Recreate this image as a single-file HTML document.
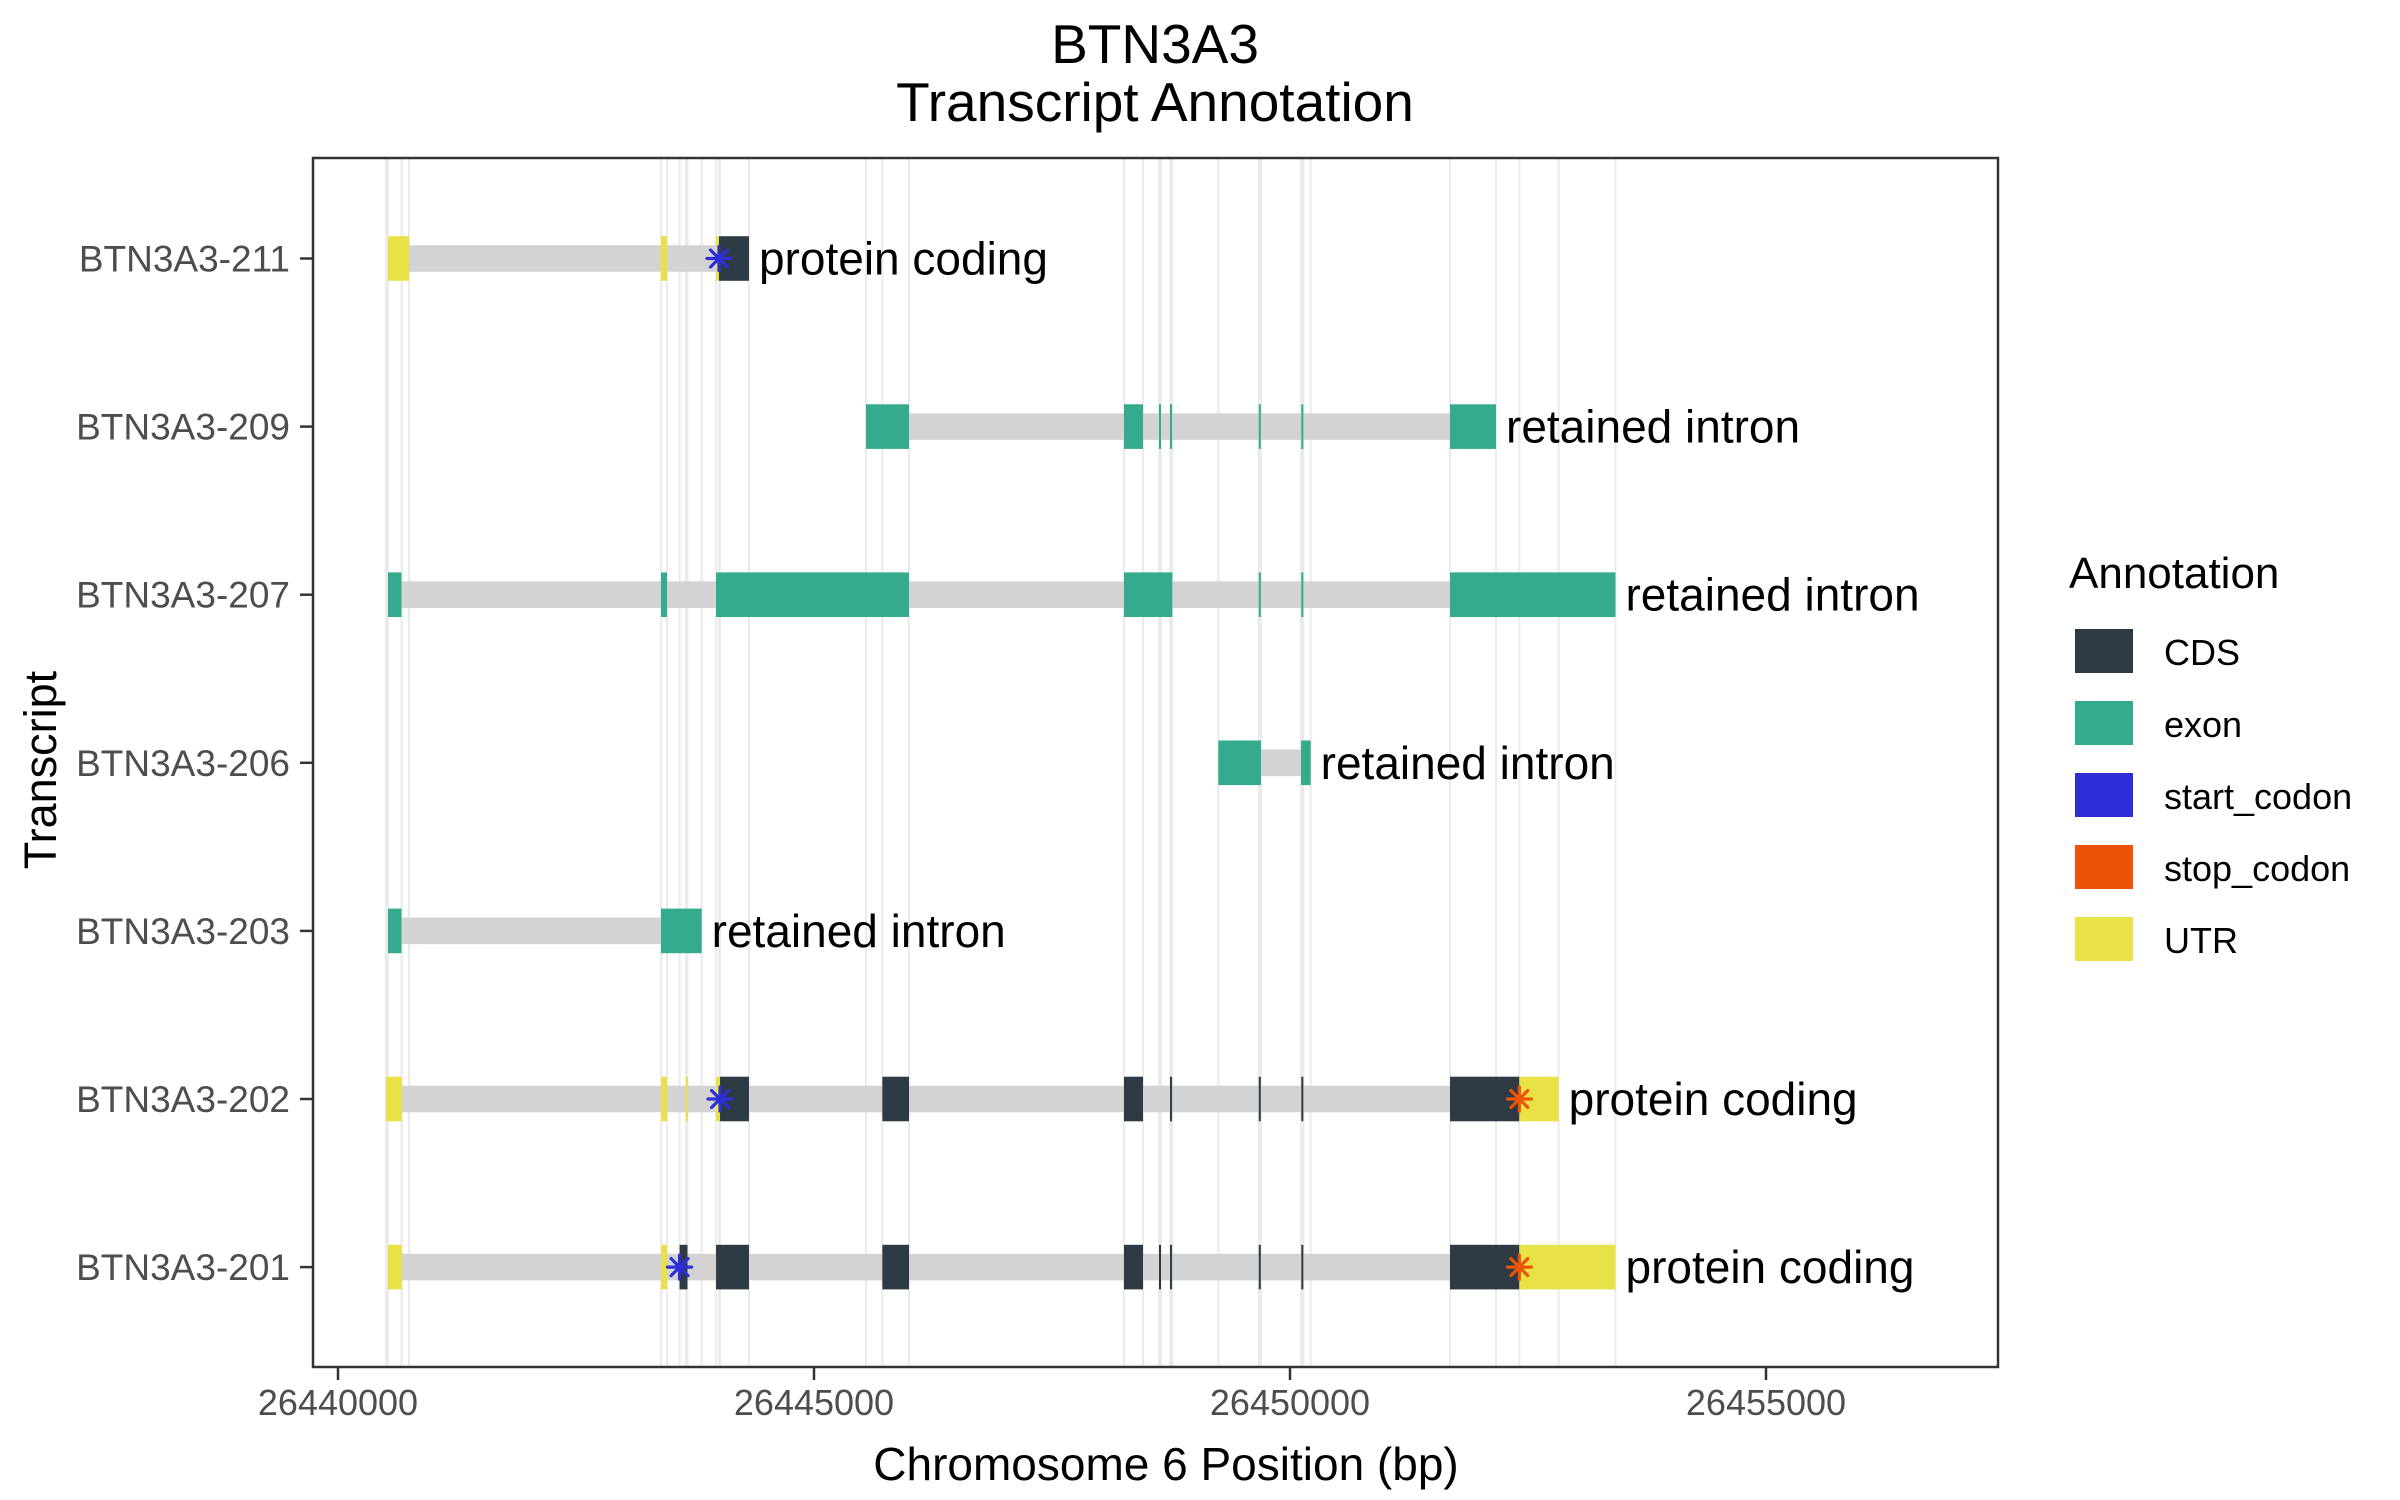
<!DOCTYPE html>
<html><head><meta charset="utf-8"><style>
html,body{margin:0;padding:0;background:#fff;}
svg{display:block;font-family:"Liberation Sans",Arial,sans-serif;}
</style></head><body>
<svg id="chart" width="2400" height="1500" viewBox="0 0 2400 1500" xmlns="http://www.w3.org/2000/svg">
<rect x="0" y="0" width="2400" height="1500" fill="#fff"/>
<text x="1155" y="63" font-size="55" text-anchor="middle" fill="#000">BTN3A3</text>
<text x="1155" y="121" font-size="55" text-anchor="middle" fill="#000">Transcript Annotation</text>
<g id="grid"></g>
<g id="marks"></g>
<rect x="313" y="158" width="1685" height="1209" fill="none" stroke="#333" stroke-width="2.5"/>
<g id="axes"></g>
<text x="1166" y="1480" font-size="46" text-anchor="middle" fill="#000">Chromosome 6 Position (bp)</text>
<text transform="translate(56,770) rotate(-90)" font-size="45" text-anchor="middle" fill="#000">Transcript</text>
<g>
<text x="2069" y="588" font-size="44" fill="#000">Annotation</text>
<g id="legend-items"></g>
</g>
</svg>
<script>
const transcripts = ["BTN3A3-211","BTN3A3-209","BTN3A3-207","BTN3A3-206","BTN3A3-203","BTN3A3-202","BTN3A3-201"];
const biotypes = ["protein coding","retained intron","retained intron","retained intron","retained intron","protein coding","protein coding"];
const featTx = [
 0,0,0,0,
 1,1,1,1,1,1,1,
 2,2,2,2,2,2,2,
 3,3,
 4,4,
 5,5,5,5,5,5,5,5,5,5,5,5,
 6,6,6,6,6,6,6,6,6,6,6,6
];
const featType = [
 "UTR","UTR","UTR","CDS",
 "exon","exon","exon","exon","exon","exon","exon",
 "exon","exon","exon","exon","exon","exon","exon",
 "exon","exon",
 "exon","exon",
 "UTR","UTR","UTR","UTR","CDS","CDS","CDS","CDS","CDS","CDS","CDS","UTR",
 "UTR","UTR","CDS","CDS","CDS","CDS","CDS","CDS","CDS","CDS","CDS","UTR"
];
const featStart = [
 26440525,26443393,26443971,26444002,
 26445546,26448256,26448624,26448740,26449672,26450119,26451681,
 26440525,26443393,26443971,26448256,26449672,26450119,26451681,
 26449247,26450116,
 26440525,26443393,
 26440504,26443396,26443655,26443971,26444013,26445718,26448256,26448740,26449672,26450119,26451681,26452409,
 26440525,26443396,26443588,26443971,26445718,26448256,26448624,26448740,26449672,26450119,26451681,26452409
];
const featEnd = [
 26440746,26443456,26444002,26444317,
 26445998,26448456,26448644,26448760,26449692,26450139,26452164,
 26440667,26443456,26445998,26448764,26449692,26450139,26453419,
 26449695,26450217,
 26440667,26443820,
 26440669,26443458,26443671,26444013,26444317,26445998,26448456,26448760,26449692,26450139,26452409,26452822,
 26440669,26443458,26443671,26444317,26445998,26448456,26448644,26448760,26449692,26450139,26452409,26453419
];
const startCodonTx = [0,5,6];
const startCodonPos = [26444002,26444013,26443588];
const stopCodonTx = [5,6];
const stopCodonPos = [26452409,26452409];
const xTicks = [26440000,26445000,26450000,26455000];
const legendKeys = ["CDS","exon","start_codon","stop_codon","UTR"];

const colors = {CDS:"#2e3b45", exon:"#33ab8c", start_codon:"#2e2ed9", stop_codon:"#ec5307", UTR:"#e9e246"};
const NS = "http://www.w3.org/2000/svg";
function xs(v){ return 1290 + (v - 26450000) * 0.0952; }
function ys(i){ return 258.5 + i * 168.1; }
function mk(tag, attrs, parent){
  const e = document.createElementNS(NS, tag);
  for (const k in attrs) e.setAttribute(k, attrs[k]);
  parent.appendChild(e);
  return e;
}
const grid = document.getElementById('grid');
const marks = document.getElementById('marks');
const axes = document.getElementById('axes');

const bounds = Array.from(new Set(featStart.concat(featEnd))).sort((a,b)=>a-b);
bounds.forEach(b => {
  const l = mk('line', {x1:xs(b), x2:xs(b), y1:158, y2:1367, stroke:"#ebebeb", "stroke-width":2}, grid);
  
  
});

transcripts.forEach((t, i) => {
  const y = ys(i);
  let mn = Infinity, mx = -Infinity;
  featTx.forEach((ti, k) => { if (ti === i) { mn = Math.min(mn, featStart[k]); mx = Math.max(mx, featEnd[k]); } });
  const g = mk('g', {}, marks);
  
  
  const intr = mk('rect', {x:xs(mn), y:y-13.3, width:xs(mx)-xs(mn), height:26.6, fill:"#d3d3d3"}, g);
  
  
  featTx.forEach((ti, k) => {
    if (ti !== i) return;
    const r = mk('rect', {x:xs(featStart[k]), y:y-22.3, width:Math.max(2, xs(featEnd[k])-xs(featStart[k])), height:44.6, fill:colors[featType[k]]}, g);
    
    
  });
  const lbl = mk('text', {x:xs(mx)+10, y:y+16, "font-size":46, fill:"#000"}, g);
  lbl.textContent = biotypes[i];
  
  
  const yl = mk('text', {x:290, y:y+13, "font-size":37, fill:"#4d4d4d", "text-anchor":"end"}, axes);
  yl.textContent = t;
  
  
  const yt = mk('line', {x1:300, x2:313, y1:y, y2:y, stroke:"#333", "stroke-width":2.5}, axes);
  
  
});

function star(cx, cy, color, name){
  const g = mk('g', {stroke:color, "stroke-width":3.2, "stroke-linecap":"round"}, marks);
  
  
  const r = 12;
  [0,45,90,135].forEach(a => {
    const rad = a * Math.PI / 180;
    mk('line', {x1:cx - r*Math.cos(rad), y1:cy - r*Math.sin(rad), x2:cx + r*Math.cos(rad), y2:cy + r*Math.sin(rad)}, g);
  });
}
startCodonTx.forEach((ti, k) => star(xs(startCodonPos[k]), ys(ti), colors.start_codon, 'start-codon-marker'));
stopCodonTx.forEach((ti, k) => star(xs(stopCodonPos[k]), ys(ti), colors.stop_codon, 'stop-codon-marker'));

xTicks.forEach(v => {
  const tk = mk('line', {x1:xs(v), x2:xs(v), y1:1367, y2:1380, stroke:"#333", "stroke-width":2.5}, axes);
  
  
  const tl = mk('text', {x:xs(v), y:1415, "font-size":36, fill:"#4d4d4d", "text-anchor":"middle"}, axes);
  tl.textContent = String(v);
  
  
});

const li = document.getElementById('legend-items');
legendKeys.forEach((k, i) => {
  const y = 629 + i * 72;
  const g = mk('g', {}, li);
  
  
  mk('rect', {x:2075, y:y, width:58, height:44, fill:colors[k]}, g);
  const t = mk('text', {x:2164, y:y+36, "font-size":36, fill:"#000"}, g);
  t.textContent = k;
});
</script>
</body></html>
